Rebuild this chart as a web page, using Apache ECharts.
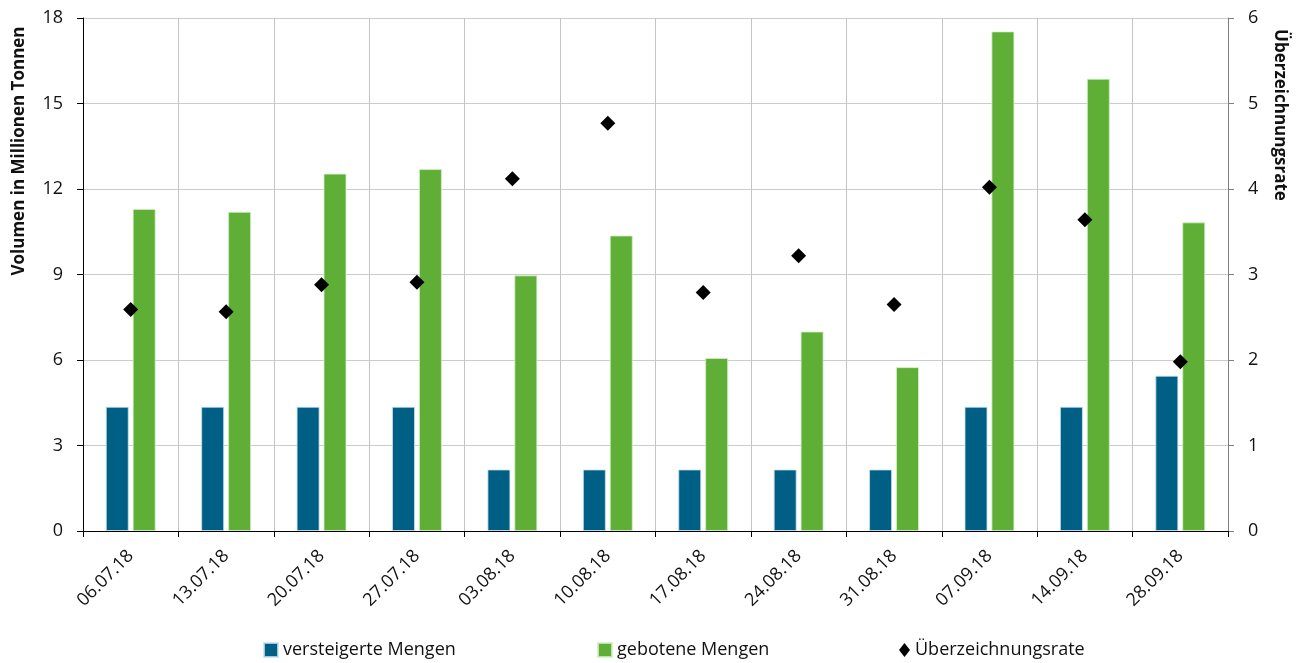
<!DOCTYPE html>
<html>
<head>
<meta charset="utf-8">
<script src="https://cdn.jsdelivr.net/npm/echarts@6/dist/echarts.min.js"></script>
<style>html,body{margin:0;padding:0;background:#fff}#c{width:1303px;height:663px}</style>
</head>
<body>
<div id="c"></div>
<script>
const categories = ['06.07.18','13.07.18','20.07.18','27.07.18','03.08.18','10.08.18','17.08.18','24.08.18','31.08.18','07.09.18','14.09.18','28.09.18'];
const versteigerte = [4.36,4.36,4.36,4.36,2.16,2.16,2.16,2.16,2.16,4.36,4.36,5.45];
const geboten = [11.30,11.20,12.54,12.70,8.97,10.37,6.07,7.00,5.75,17.53,15.87,10.83];
const rate = [2.59,2.565,2.88,2.91,4.12,4.77,2.79,3.22,2.65,4.02,3.64,1.98];
const leftTicks = {min:0,max:18,interval:3};
const rightTicks = {min:0,max:6,interval:1};

const FONT = '"Open Sans", "Noto Sans", sans-serif';
const legendText = {fontSize:18,color:'#111',fontFamily:FONT};
const chart = echarts.init(document.getElementById('c'));
chart.setOption({
  animation:false,
  textStyle:{fontFamily:FONT},
  grid:{left:83,right:75,top:18,bottom:132,containLabel:false},
  legend:[
    {left:263, top:641, padding:0, itemWidth:14, itemHeight:14, textStyle:legendText,
     data:[{name:'versteigerte Mengen',icon:'rect'}]},
    {left:597, top:641, padding:0, itemWidth:14, itemHeight:14, textStyle:legendText,
     data:[{name:'gebotene Mengen',icon:'rect'}]},
    {left:899, top:641, padding:0, itemWidth:11, itemHeight:14, textStyle:legendText,
     data:[{name:'Überzeichnungsrate',icon:'diamond'}]}
  ],
  xAxis:{
    type:'category', data:categories, boundaryGap:true,
    axisLine:{lineStyle:{color:'#000',width:1}},
    axisTick:{show:true,length:6,lineStyle:{color:'#000'},interval:0},
    axisLabel:{rotate:45,interval:0,fontSize:18,color:'#111',margin:22,fontFamily:FONT},
    splitLine:{show:true,interval:0,lineStyle:{color:'#c4c4c4',width:1}}
  },
  yAxis:[
    {type:'value', min:leftTicks.min, max:leftTicks.max, interval:leftTicks.interval,
     axisLine:{show:true,lineStyle:{color:'#000'}},
     axisTick:{show:true,length:6,lineStyle:{color:'#000'}},
     axisLabel:{fontSize:18,color:'#111',margin:20,fontFamily:FONT},
     splitLine:{show:true,lineStyle:{color:'#cccccc',width:1}}},
    {type:'value', min:rightTicks.min, max:rightTicks.max, interval:rightTicks.interval,
     position:'right',
     axisLine:{show:true,lineStyle:{color:'#7f7f7f'}},
     axisTick:{show:true,length:6,lineStyle:{color:'#7f7f7f'}},
     axisLabel:{fontSize:18,color:'#111',margin:20,fontFamily:FONT},
     splitLine:{show:false}}
  ],
  graphic:[
    {type:'text', x:19, y:151, rotation:Math.PI/2,
     style:{text:'Volumen in Millionen Tonnen',fontSize:17,fontWeight:'bold',fill:'#111',fontFamily:FONT,align:'center',verticalAlign:'middle'}},
    {type:'text', x:1280, y:115, rotation:-Math.PI/2,
     style:{text:'Überzeichnungsrate',fontSize:17,fontWeight:'bold',fill:'#111',fontFamily:FONT,align:'center',verticalAlign:'middle'}}
  ],
  series:[
    {name:'versteigerte Mengen', type:'bar', data:versteigerte, barWidth:23, barGap:'17%',
     itemStyle:{color:'#005f84',borderColor:'rgba(200,225,240,0.8)',borderWidth:1}},
    {name:'gebotene Mengen', type:'bar', data:geboten, barWidth:23, barGap:'17%',
     itemStyle:{color:'#5fae36',borderColor:'rgba(210,240,200,0.8)',borderWidth:1}},
    {name:'Überzeichnungsrate', type:'scatter', yAxisIndex:1, data:rate, symbol:'diamond', symbolSize:15,
     itemStyle:{color:'#000',opacity:1}, z:5}
  ]
});
</script>
</body>
</html>
